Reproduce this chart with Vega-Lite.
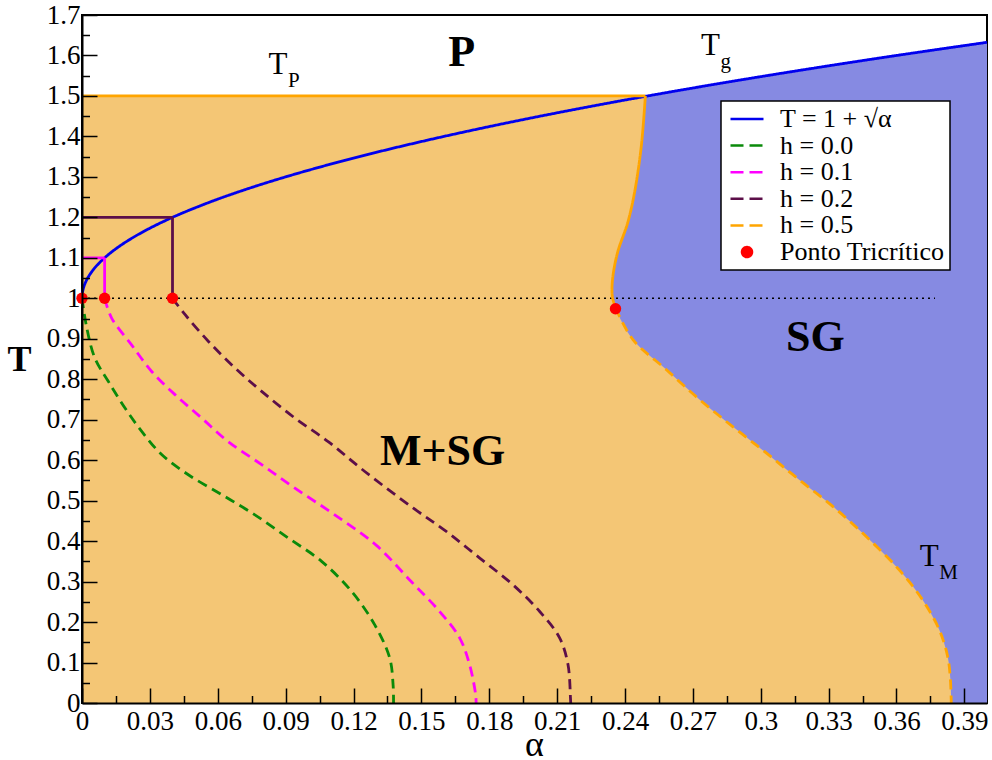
{
  "$schema": "https://vega.github.io/schema/vega-lite/v6.json",
  "width": 905,
  "height": 688,
  "autosize": {"type": "none"},
  "padding": {"left": 82, "top": 15, "right": 5, "bottom": 57},
  "background": "white",
  "config": {
    "view": {"stroke": "black", "strokeWidth": 2},
    "font": "Liberation Serif",
    "axis": {"labelFont": "Liberation Serif", "titleFont": "Liberation Serif"},
    "legend": {"labelFont": "Liberation Serif", "titleFont": "Liberation Serif"}
  },
  "datasets": {
    "lines": [
      {"series": "T = 1 + √α", "seg": "blue", "style": "solid", "i": 0, "a": 0, "T": 1},
      {"series": "T = 1 + √α", "seg": "blue", "style": "solid", "i": 1, "a": 0.0001, "T": 1.01},
      {"series": "T = 1 + √α", "seg": "blue", "style": "solid", "i": 2, "a": 0.0004, "T": 1.02},
      {"series": "T = 1 + √α", "seg": "blue", "style": "solid", "i": 3, "a": 0.0009, "T": 1.03},
      {"series": "T = 1 + √α", "seg": "blue", "style": "solid", "i": 4, "a": 0.0016, "T": 1.04},
      {"series": "T = 1 + √α", "seg": "blue", "style": "solid", "i": 5, "a": 0.0025, "T": 1.05},
      {"series": "T = 1 + √α", "seg": "blue", "style": "solid", "i": 6, "a": 0.0049, "T": 1.07},
      {"series": "T = 1 + √α", "seg": "blue", "style": "solid", "i": 7, "a": 0.0081, "T": 1.09},
      {"series": "T = 1 + √α", "seg": "blue", "style": "solid", "i": 8, "a": 0.0121, "T": 1.11},
      {"series": "T = 1 + √α", "seg": "blue", "style": "solid", "i": 9, "a": 0.0169, "T": 1.13},
      {"series": "T = 1 + √α", "seg": "blue", "style": "solid", "i": 10, "a": 0.0225, "T": 1.15},
      {"series": "T = 1 + √α", "seg": "blue", "style": "solid", "i": 11, "a": 0.0289, "T": 1.17},
      {"series": "T = 1 + √α", "seg": "blue", "style": "solid", "i": 12, "a": 0.0361, "T": 1.19},
      {"series": "T = 1 + √α", "seg": "blue", "style": "solid", "i": 13, "a": 0.0441, "T": 1.21},
      {"series": "T = 1 + √α", "seg": "blue", "style": "solid", "i": 14, "a": 0.0576, "T": 1.24},
      {"series": "T = 1 + √α", "seg": "blue", "style": "solid", "i": 15, "a": 0.0729, "T": 1.27},
      {"series": "T = 1 + √α", "seg": "blue", "style": "solid", "i": 16, "a": 0.09, "T": 1.3},
      {"series": "T = 1 + √α", "seg": "blue", "style": "solid", "i": 17, "a": 0.1089, "T": 1.33},
      {"series": "T = 1 + √α", "seg": "blue", "style": "solid", "i": 18, "a": 0.1296, "T": 1.36},
      {"series": "T = 1 + √α", "seg": "blue", "style": "solid", "i": 19, "a": 0.1521, "T": 1.39},
      {"series": "T = 1 + √α", "seg": "blue", "style": "solid", "i": 20, "a": 0.1764, "T": 1.42},
      {"series": "T = 1 + √α", "seg": "blue", "style": "solid", "i": 21, "a": 0.2025, "T": 1.45},
      {"series": "T = 1 + √α", "seg": "blue", "style": "solid", "i": 22, "a": 0.2304, "T": 1.48},
      {"series": "T = 1 + √α", "seg": "blue", "style": "solid", "i": 23, "a": 0.2601, "T": 1.51},
      {"series": "T = 1 + √α", "seg": "blue", "style": "solid", "i": 24, "a": 0.2916, "T": 1.54},
      {"series": "T = 1 + √α", "seg": "blue", "style": "solid", "i": 25, "a": 0.3249, "T": 1.57},
      {"series": "T = 1 + √α", "seg": "blue", "style": "solid", "i": 26, "a": 0.36, "T": 1.6},
      {"series": "T = 1 + √α", "seg": "blue", "style": "solid", "i": 27, "a": 0.4, "T": 1.6325},

      {"series": "h = 0.0", "seg": "g3", "style": "dashed", "i": 0, "a": 0, "T": 1.0},
      {"series": "h = 0.0", "seg": "g3", "style": "dashed", "i": 1, "a": 0.0021, "T": 0.927},
      {"series": "h = 0.0", "seg": "g3", "style": "dashed", "i": 2, "a": 0.0057, "T": 0.852},
      {"series": "h = 0.0", "seg": "g3", "style": "dashed", "i": 3, "a": 0.0116, "T": 0.795},
      {"series": "h = 0.0", "seg": "g3", "style": "dashed", "i": 4, "a": 0.019, "T": 0.729},
      {"series": "h = 0.0", "seg": "g3", "style": "dashed", "i": 5, "a": 0.0264, "T": 0.671},
      {"series": "h = 0.0", "seg": "g3", "style": "dashed", "i": 6, "a": 0.0352, "T": 0.614},
      {"series": "h = 0.0", "seg": "g3", "style": "dashed", "i": 7, "a": 0.047, "T": 0.564},
      {"series": "h = 0.0", "seg": "g3", "style": "dashed", "i": 8, "a": 0.0617, "T": 0.515},
      {"series": "h = 0.0", "seg": "g3", "style": "dashed", "i": 9, "a": 0.0764, "T": 0.465},
      {"series": "h = 0.0", "seg": "g3", "style": "dashed", "i": 10, "a": 0.0911, "T": 0.408},
      {"series": "h = 0.0", "seg": "g3", "style": "dashed", "i": 11, "a": 0.1059, "T": 0.35},
      {"series": "h = 0.0", "seg": "g3", "style": "dashed", "i": 12, "a": 0.1191, "T": 0.276},
      {"series": "h = 0.0", "seg": "g3", "style": "dashed", "i": 13, "a": 0.1294, "T": 0.193},
      {"series": "h = 0.0", "seg": "g3", "style": "dashed", "i": 14, "a": 0.136, "T": 0.111},
      {"series": "h = 0.0", "seg": "g3", "style": "dashed", "i": 15, "a": 0.1375, "T": 0.045},
      {"series": "h = 0.0", "seg": "g3", "style": "dashed", "i": 16, "a": 0.1377, "T": 0},

      {"series": "h = 0.1", "seg": "m1", "style": "solid", "i": 0, "a": 0, "T": 1.1},
      {"series": "h = 0.1", "seg": "m1", "style": "solid", "i": 1, "a": 0.01, "T": 1.1},
      {"series": "h = 0.1", "seg": "m2", "style": "solid", "i": 0, "a": 0.01, "T": 1.1},
      {"series": "h = 0.1", "seg": "m2", "style": "solid", "i": 1, "a": 0.01, "T": 1.0},
      {"series": "h = 0.1", "seg": "m3", "style": "dashed", "i": 0, "a": 0.01, "T": 1.0},
      {"series": "h = 0.1", "seg": "m3", "style": "dashed", "i": 1, "a": 0.0131, "T": 0.951},
      {"series": "h = 0.1", "seg": "m3", "style": "dashed", "i": 2, "a": 0.0219, "T": 0.885},
      {"series": "h = 0.1", "seg": "m3", "style": "dashed", "i": 3, "a": 0.0308, "T": 0.819},
      {"series": "h = 0.1", "seg": "m3", "style": "dashed", "i": 4, "a": 0.0411, "T": 0.762},
      {"series": "h = 0.1", "seg": "m3", "style": "dashed", "i": 5, "a": 0.0529, "T": 0.704},
      {"series": "h = 0.1", "seg": "m3", "style": "dashed", "i": 6, "a": 0.0646, "T": 0.646},
      {"series": "h = 0.1", "seg": "m3", "style": "dashed", "i": 7, "a": 0.0794, "T": 0.589},
      {"series": "h = 0.1", "seg": "m3", "style": "dashed", "i": 8, "a": 0.0941, "T": 0.531},
      {"series": "h = 0.1", "seg": "m3", "style": "dashed", "i": 9, "a": 0.1117, "T": 0.465},
      {"series": "h = 0.1", "seg": "m3", "style": "dashed", "i": 10, "a": 0.13, "T": 0.39},
      {"series": "h = 0.1", "seg": "m3", "style": "dashed", "i": 11, "a": 0.1455, "T": 0.3},
      {"series": "h = 0.1", "seg": "m3", "style": "dashed", "i": 12, "a": 0.1581, "T": 0.226},
      {"series": "h = 0.1", "seg": "m3", "style": "dashed", "i": 13, "a": 0.1669, "T": 0.161},
      {"series": "h = 0.1", "seg": "m3", "style": "dashed", "i": 14, "a": 0.1713, "T": 0.095},
      {"series": "h = 0.1", "seg": "m3", "style": "dashed", "i": 15, "a": 0.174, "T": 0.02},
      {"series": "h = 0.1", "seg": "m3", "style": "dashed", "i": 16, "a": 0.1742, "T": 0},

      {"series": "h = 0.2", "seg": "p1", "style": "solid", "i": 0, "a": 0, "T": 1.2},
      {"series": "h = 0.2", "seg": "p1", "style": "solid", "i": 1, "a": 0.04, "T": 1.2},
      {"series": "h = 0.2", "seg": "p2", "style": "solid", "i": 0, "a": 0.04, "T": 1.2},
      {"series": "h = 0.2", "seg": "p2", "style": "solid", "i": 1, "a": 0.04, "T": 1.0},
      {"series": "h = 0.2", "seg": "p3", "style": "dashed", "i": 0, "a": 0.04, "T": 1.0},
      {"series": "h = 0.2", "seg": "p3", "style": "dashed", "i": 1, "a": 0.0455, "T": 0.96},
      {"series": "h = 0.2", "seg": "p3", "style": "dashed", "i": 2, "a": 0.0558, "T": 0.894},
      {"series": "h = 0.2", "seg": "p3", "style": "dashed", "i": 3, "a": 0.0676, "T": 0.828},
      {"series": "h = 0.2", "seg": "p3", "style": "dashed", "i": 4, "a": 0.0794, "T": 0.77},
      {"series": "h = 0.2", "seg": "p3", "style": "dashed", "i": 5, "a": 0.0941, "T": 0.704},
      {"series": "h = 0.2", "seg": "p3", "style": "dashed", "i": 6, "a": 0.1088, "T": 0.646},
      {"series": "h = 0.2", "seg": "p3", "style": "dashed", "i": 7, "a": 0.125, "T": 0.572},
      {"series": "h = 0.2", "seg": "p3", "style": "dashed", "i": 8, "a": 0.1463, "T": 0.482},
      {"series": "h = 0.2", "seg": "p3", "style": "dashed", "i": 9, "a": 0.161, "T": 0.424},
      {"series": "h = 0.2", "seg": "p3", "style": "dashed", "i": 10, "a": 0.1758, "T": 0.358},
      {"series": "h = 0.2", "seg": "p3", "style": "dashed", "i": 11, "a": 0.1905, "T": 0.292},
      {"series": "h = 0.2", "seg": "p3", "style": "dashed", "i": 12, "a": 0.2023, "T": 0.226},
      {"series": "h = 0.2", "seg": "p3", "style": "dashed", "i": 13, "a": 0.2111, "T": 0.161},
      {"series": "h = 0.2", "seg": "p3", "style": "dashed", "i": 14, "a": 0.2148, "T": 0.095},
      {"series": "h = 0.2", "seg": "p3", "style": "dashed", "i": 15, "a": 0.2159, "T": 0.012},
      {"series": "h = 0.2", "seg": "p3", "style": "dashed", "i": 16, "a": 0.216, "T": 0},

      {"series": "h = 0.5", "seg": "o1", "style": "solid", "i": 0, "a": 0, "T": 1.5},
      {"series": "h = 0.5", "seg": "o1", "style": "solid", "i": 1, "a": 0.249, "T": 1.5},
      {"series": "h = 0.5", "seg": "o2", "style": "solid", "i": 0, "a": 0.249, "T": 1.5},
      {"series": "h = 0.5", "seg": "o2", "style": "solid", "i": 1, "a": 0.2472, "T": 1.376},
      {"series": "h = 0.5", "seg": "o2", "style": "solid", "i": 2, "a": 0.2442, "T": 1.261},
      {"series": "h = 0.5", "seg": "o2", "style": "solid", "i": 3, "a": 0.2412, "T": 1.187},
      {"series": "h = 0.5", "seg": "o2", "style": "solid", "i": 4, "a": 0.2367, "T": 1.113},
      {"series": "h = 0.5", "seg": "o2", "style": "solid", "i": 5, "a": 0.2345, "T": 1.047},
      {"series": "h = 0.5", "seg": "o2", "style": "solid", "i": 6, "a": 0.2344, "T": 1.005},
      {"series": "h = 0.5", "seg": "o2", "style": "solid", "i": 7, "a": 0.2358, "T": 0.976},
      {"series": "h = 0.5", "seg": "o3", "style": "dashed", "i": 0, "a": 0.2358, "T": 0.976},
      {"series": "h = 0.5", "seg": "o3", "style": "dashed", "i": 1, "a": 0.2435, "T": 0.898},
      {"series": "h = 0.5", "seg": "o3", "style": "dashed", "i": 2, "a": 0.2582, "T": 0.824},
      {"series": "h = 0.5", "seg": "o3", "style": "dashed", "i": 3, "a": 0.2729, "T": 0.75},
      {"series": "h = 0.5", "seg": "o3", "style": "dashed", "i": 4, "a": 0.2876, "T": 0.683},
      {"series": "h = 0.5", "seg": "o3", "style": "dashed", "i": 5, "a": 0.3024, "T": 0.618},
      {"series": "h = 0.5", "seg": "o3", "style": "dashed", "i": 6, "a": 0.3171, "T": 0.551},
      {"series": "h = 0.5", "seg": "o3", "style": "dashed", "i": 7, "a": 0.3318, "T": 0.486},
      {"series": "h = 0.5", "seg": "o3", "style": "dashed", "i": 8, "a": 0.3465, "T": 0.412},
      {"series": "h = 0.5", "seg": "o3", "style": "dashed", "i": 9, "a": 0.3612, "T": 0.329},
      {"series": "h = 0.5", "seg": "o3", "style": "dashed", "i": 10, "a": 0.3715, "T": 0.255},
      {"series": "h = 0.5", "seg": "o3", "style": "dashed", "i": 11, "a": 0.3789, "T": 0.181},
      {"series": "h = 0.5", "seg": "o3", "style": "dashed", "i": 12, "a": 0.3826, "T": 0.115},
      {"series": "h = 0.5", "seg": "o3", "style": "dashed", "i": 13, "a": 0.3838, "T": 0.06},
      {"series": "h = 0.5", "seg": "o3", "style": "dashed", "i": 14, "a": 0.3842, "T": 0}
    ],
    "orangeArea": [
      {"T": 0, "a": 0.3842}, {"T": 0.06, "a": 0.3838}, {"T": 0.115, "a": 0.3826},
      {"T": 0.181, "a": 0.3789}, {"T": 0.255, "a": 0.3715}, {"T": 0.329, "a": 0.3612},
      {"T": 0.412, "a": 0.3465}, {"T": 0.486, "a": 0.3318}, {"T": 0.551, "a": 0.3171},
      {"T": 0.618, "a": 0.3024}, {"T": 0.683, "a": 0.2876}, {"T": 0.75, "a": 0.2729},
      {"T": 0.824, "a": 0.2582}, {"T": 0.898, "a": 0.2435}, {"T": 0.976, "a": 0.2358},
      {"T": 1.005, "a": 0.2344}, {"T": 1.047, "a": 0.2345}, {"T": 1.113, "a": 0.2367},
      {"T": 1.187, "a": 0.2412}, {"T": 1.261, "a": 0.2442}, {"T": 1.376, "a": 0.2472},
      {"T": 1.5, "a": 0.249}
    ],
    "blueArea": [
      {"a": 0.2025, "T": 1.45}, {"a": 0.2304, "T": 1.48}, {"a": 0.2601, "T": 1.51},
      {"a": 0.2916, "T": 1.54}, {"a": 0.3249, "T": 1.57}, {"a": 0.36, "T": 1.6},
      {"a": 0.4, "T": 1.6325}
    ],
    "dotted": [{"a": 0, "T": 1}, {"a": 0.377, "T": 1}],
    "points": [
      {"a": 0, "T": 1}, {"a": 0.01, "T": 1}, {"a": 0.04, "T": 1}, {"a": 0.2358, "T": 0.974}
    ],
    "bigLabels": [
      {"label": "P", "a": 0.1678, "T": 1.575},
      {"label": "SG", "a": 0.3241, "T": 0.869},
      {"label": "M+SG", "a": 0.1594, "T": 0.589}
    ],
    "tLabels": [
      {"label": "T", "sub": "P", "a": 0.0866, "T": 1.555},
      {"label": "T", "sub": "g", "a": 0.2778, "T": 1.6},
      {"label": "T", "sub": "M", "a": 0.3745, "T": 0.339}
    ]
  },
  "encoding": {
    "x": {
      "field": "a", "type": "quantitative",
      "scale": {"domain": [0, 0.4], "nice": false, "zero": false},
      "axis": {
        "zindex": 1,
        "values": [0, 0.015, 0.03, 0.045, 0.06, 0.075, 0.09, 0.105, 0.12, 0.135, 0.15, 0.165, 0.18, 0.195, 0.21, 0.225, 0.24, 0.255, 0.27, 0.285, 0.3, 0.315, 0.33, 0.345, 0.36, 0.375, 0.39],
        "labelExpr": "abs(datum.value/0.03 - round(datum.value/0.03)) > 0.1 ? '' : format(datum.value, '.2~f')",
        "tickSize": -15,
        "tickDash": {"condition": {"test": "abs(datum.value/0.03 - round(datum.value/0.03)) > 0.1", "value": [7.5, 30]}, "value": [15, 0]},
        "tickColor": "black", "tickWidth": 1.5,
        "labelFont": "Liberation Serif", "labelFontSize": 27, "labelColor": "black",
        "labelPadding": 20, "labelOverlap": false, "labelFlush": false, "labelBound": false,
        "domainColor": "black", "domainWidth": 2, "grid": false,
        "title": "α", "titleFont": "Liberation Serif", "titleFontSize": 36, "titleFontWeight": "normal", "titleColor": "black",
        "titleX": 452, "titleY": 52, "titleBaseline": "alphabetic", "titleAlign": "center", "titleAnchor": null
      }
    },
    "y": {
      "field": "T", "type": "quantitative",
      "scale": {"domain": [0, 1.7], "nice": false, "zero": false},
      "axis": {
        "zindex": 1,
        "values": [0, 0.05, 0.1, 0.15, 0.2, 0.25, 0.3, 0.35, 0.4, 0.45, 0.5, 0.55, 0.6, 0.65, 0.7, 0.75, 0.8, 0.85, 0.9, 0.95, 1, 1.05, 1.1, 1.15, 1.2, 1.25, 1.3, 1.35, 1.4, 1.45, 1.5, 1.55, 1.6, 1.65, 1.7],
        "labelExpr": "abs(datum.value/0.1 - round(datum.value/0.1)) > 0.1 ? '' : format(datum.value, '.1~f')",
        "tickSize": -15,
        "tickDash": {"condition": {"test": "abs(datum.value/0.1 - round(datum.value/0.1)) > 0.1", "value": [7.5, 30]}, "value": [15, 0]},
        "tickColor": "black", "tickWidth": 1.5,
        "labelFont": "Liberation Serif", "labelFontSize": 27, "labelColor": "black",
        "labelPadding": 17, "labelOverlap": false, "labelFlush": false, "labelBound": false,
        "domainColor": "black", "domainWidth": 2, "grid": false,
        "title": "T", "titleFont": "Liberation Serif", "titleFontSize": 36, "titleFontWeight": "bold", "titleColor": "black",
        "titleAngle": 0, "titleX": -63, "titleY": 355, "titleBaseline": "alphabetic", "titleAlign": "center", "titleAnchor": null
      }
    }
  },
  "layer": [
    {
      "data": {"name": "blueArea"},
      "mark": {"type": "area", "color": "#868ae2", "opacity": 1, "interpolate": "monotone"},
      "encoding": {"y2": {"datum": 0}}
    },
    {
      "data": {"name": "orangeArea"},
      "mark": {"type": "area", "orient": "horizontal", "color": "#f4c675", "opacity": 1, "interpolate": "catmull-rom"},
      "encoding": {"x2": {"datum": 0}}
    },
    {
      "data": {"name": "dotted"},
      "mark": {"type": "line", "color": "black", "strokeWidth": 1.5, "strokeDash": [2, 4]},
      "encoding": {}
    },
    {
      "data": {"name": "lines"},
      "mark": {"type": "line", "strokeWidth": 2.8, "interpolate": "catmull-rom"},
      "encoding": {
        "color": {
          "field": "series", "type": "nominal",
          "scale": {
            "domain": ["T = 1 + √α", "h = 0.0", "h = 0.1", "h = 0.2", "h = 0.5", "Ponto Tricrítico"],
            "range": ["#0000ee", "#0a8a0a", "#ff00ff", "#5c0f49", "#ffa500", "#ff0000"]
          },
          "legend": {
            "orient": "none", "legendX": 639, "legendY": 86,
            "title": null, "padding": 5,
            "fillColor": "white", "strokeColor": "black",
            "labelFont": "Liberation Serif", "labelFontSize": 26, "labelColor": "black", "labelLimit": 400,
            "symbolSize": 400, "symbolStrokeWidth": 2.5, "symbolOffset": 8, "labelOffset": 20,
            "rowPadding": 0.6, "symbolLimit": 0,
            "encode": {
              "legend": {"update": {"strokeWidth": {"value": 1.5}}},
              "symbols": {
                "update": {
                  "shape": [
                    {"test": "datum.value === 'Ponto Tricrítico'", "value": "M-0.5,0A0.5,0.5,0,1,0,0.5,0A0.5,0.5,0,1,0,-0.5,0Z"},
                    {"value": "M-1.65,0L1.65,0"}
                  ],
                  "fill": [
                    {"test": "datum.value === 'Ponto Tricrítico'", "value": "#ff0000"},
                    {"value": "transparent"}
                  ],
                  "strokeDash": [
                    {"test": "datum.value === 'T = 1 + √α' || datum.value === 'Ponto Tricrítico'", "value": [1, 0]},
                    {"value": [13, 6]}
                  ],
                  "size": {"value": 400},
                  "strokeWidth": {"value": 2.5},
                  "opacity": {"value": 1}
                }
              }
            }
          }
        },
        "strokeDash": {
          "field": "style", "type": "nominal",
          "scale": {"domain": ["solid", "dashed"], "range": [[1, 0], [10, 6]]},
          "legend": null
        },
        "detail": {"field": "seg", "type": "nominal"},
        "order": {"field": "i", "type": "quantitative"}
      }
    },
    {
      "data": {"name": "points"},
      "mark": {"type": "circle", "size": 130, "color": "#ff0000", "opacity": 1}
    },
    {
      "data": {"name": "bigLabels"},
      "mark": {"type": "text", "font": "Liberation Serif", "fontSize": 44, "fontWeight": "bold", "color": "black", "align": "center", "baseline": "alphabetic"},
      "encoding": {"text": {"field": "label"}}
    },
    {
      "data": {"name": "tLabels"},
      "mark": {"type": "text", "font": "Liberation Serif", "fontSize": 31, "color": "black", "align": "center", "baseline": "alphabetic"},
      "encoding": {"text": {"field": "label"}}
    },
    {
      "data": {"name": "tLabels"},
      "mark": {"type": "text", "font": "Liberation Serif", "fontSize": 21, "color": "black", "align": "left", "baseline": "alphabetic", "dx": 10, "dy": 13},
      "encoding": {"text": {"field": "sub"}}
    }
  ]
}
